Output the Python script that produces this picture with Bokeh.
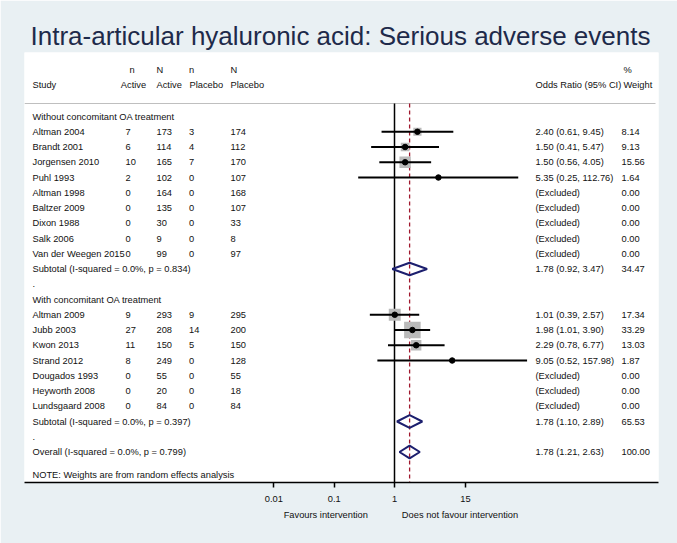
import math
from bokeh.plotting import figure
from bokeh.models import (Range1d, FixedTicker, CustomJSTickFormatter, LogAxis,
                          ColumnDataSource)
from bokeh.core.properties import value
from bokeh.embed import file_html
from bokeh.resources import INLINE

# ---------------- data ----------------
title = "Intra-articular hyaluronic acid: Serious adverse events"
group_names = ["Without concomitant OA treatment", "With concomitant OA treatment"]

studies = ["Altman 2004", "Brandt 2001", "Jorgensen 2010", "Puhl 1993", "Altman 1998",
           "Baltzer 2009", "Dixon 1988", "Salk 2006", "Van der Weegen 2015",
           "Altman 2009", "Jubb 2003", "Kwon 2013", "Strand 2012", "Dougados 1993",
           "Heyworth 2008", "Lundsgaard 2008"]
study_group = [0, 0, 0, 0, 0, 0, 0, 0, 0, 1, 1, 1, 1, 1, 1, 1]
n_active = [7, 6, 10, 2, 0, 0, 0, 0, 0, 9, 27, 11, 8, 0, 0, 0]
N_active = [173, 114, 165, 102, 164, 135, 30, 9, 99, 293, 208, 150, 249, 55, 20, 84]
n_placebo = [3, 4, 7, 0, 0, 0, 0, 0, 0, 9, 14, 5, 0, 0, 0, 0]
N_placebo = [174, 112, 170, 107, 168, 107, 33, 8, 97, 295, 200, 150, 128, 55, 18, 84]
odds_ratio = [2.40, 1.50, 1.50, 5.35, None, None, None, None, None,
              1.01, 1.98, 2.29, 9.05, None, None, None]
ci_low = [0.61, 0.41, 0.56, 0.25, None, None, None, None, None,
          0.39, 1.01, 0.78, 0.52, None, None, None]
ci_high = [9.45, 5.47, 4.05, 112.76, None, None, None, None, None,
           2.57, 3.90, 6.77, 157.98, None, None, None]
weight = [8.14, 9.13, 15.56, 1.64, 0.00, 0.00, 0.00, 0.00, 0.00,
          17.34, 33.29, 13.03, 1.87, 0.00, 0.00, 0.00]

sub_or = [1.78, 1.78]
sub_low = [0.92, 1.10]
sub_high = [3.47, 2.89]
sub_weight = [34.47, 65.53]
sub_i2 = ["0.0%", "0.0%"]
sub_p = ["0.834", "0.397"]

overall_or = 1.78
overall_low = 1.21
overall_high = 2.63
overall_weight = 100.00
overall_i2 = "0.0%"
overall_p = "0.799"

x_ticks = [0.01, 0.1, 1, 15]
favours_labels = ["Favours intervention", "Does not favour intervention"]
note = "NOTE: Weights are from random effects analysis"

# ---------------- layout helpers ----------------
ONE_PX = 394.0      # pixel of OR = 1
DECADE = 60.3       # pixels per decade
FR_L, FR_R, FR_T, FR_B = 24, 658, 52, 482
W, HGT = 677, 543


def xpx(px):
    return 10 ** ((px - ONE_PX) / DECADE)


FONT = value("Liberation Sans")
FS = "9.3px"
TXT = "#111111"

col_study, col_na, col_NA, col_np, col_NP, col_or, col_w = (
    xpx(32), xpx(125), xpx(156), xpx(188.5), xpx(230), xpx(535), xpx(621))

tx, ty, tt = [], [], []
est_x, est_y, lo_x, hi_x, sq_size = [], [], [], [], []
dia_xs, dia_ys = [], []
H = 0.413

row = 0
for g, gname in enumerate(group_names):
    tx.append(col_study); ty.append(row); tt.append(gname)
    row += 1
    for i, s in enumerate(studies):
        if study_group[i] != g:
            continue
        for cx, t in ((col_study, s), (col_na, str(n_active[i])), (col_NA, str(N_active[i])),
                      (col_np, str(n_placebo[i])), (col_NP, str(N_placebo[i])),
                      (col_w, f"{weight[i]:.2f}")):
            tx.append(cx); ty.append(row); tt.append(t)
        if odds_ratio[i] is None:
            tx.append(col_or); ty.append(row); tt.append("(Excluded)")
        else:
            tx.append(col_or); ty.append(row)
            tt.append(f"{odds_ratio[i]:.2f} ({ci_low[i]:.2f}, {ci_high[i]:.2f})")
            est_x.append(odds_ratio[i]); est_y.append(row)
            lo_x.append(ci_low[i]); hi_x.append(ci_high[i])
            sq_size.append(2.87 * math.sqrt(weight[i]))
        row += 1
    tx.append(col_study); ty.append(row)
    tt.append(f"Subtotal  (I-squared = {sub_i2[g]}, p = {sub_p[g]})")
    tx.append(col_or); ty.append(row)
    tt.append(f"{sub_or[g]:.2f} ({sub_low[g]:.2f}, {sub_high[g]:.2f})")
    tx.append(col_w); ty.append(row); tt.append(f"{sub_weight[g]:.2f}")
    dia_xs.append([sub_low[g], sub_or[g], sub_high[g], sub_or[g]])
    dia_ys.append([row, row - H, row, row + H])
    row += 1
    tx.append(col_study); ty.append(row); tt.append(".")
    row += 1

tx.append(col_study); ty.append(row)
tt.append(f"Overall  (I-squared = {overall_i2}, p = {overall_p})")
tx.append(col_or); ty.append(row)
tt.append(f"{overall_or:.2f} ({overall_low:.2f}, {overall_high:.2f})")
tx.append(col_w); ty.append(row); tt.append(f"{overall_weight:.2f}")
dia_xs.append([overall_low, overall_or, overall_high, overall_or])
dia_ys.append([row, row - H, row, row + H])
note_row = row + 1.5

hdr1 = -3.08
hdr2 = -2.08
for cx, cy, t in ((xpx(129), hdr1, "n"), (col_NA, hdr1, "N"), (col_np, hdr1, "n"),
                  (col_NP, hdr1, "N"), (xpx(623), hdr1, "%"),
                  (col_study, hdr2, "Study"), (xpx(120.3), hdr2, "Active"),
                  (col_NA, hdr2, "Active"), (xpx(189), hdr2, "Placebo"),
                  (col_NP, hdr2, "Placebo"), (col_or, hdr2, "Odds Ratio (95% CI)"),
                  (xpx(623), hdr2, "Weight"),
                  (col_study, note_row, note)):
    tx.append(cx); ty.append(cy); tt.append(t)

ROW0_PX, ROW_PX = 116.0, 15.25
Y_BOTTOM = (FR_B - ROW0_PX) / ROW_PX
Y_TOP = (FR_T - ROW0_PX) / ROW_PX
SEP = (103 - ROW0_PX) / ROW_PX

# ---------------- figure ----------------
p = figure(width=W, height=HGT, output_backend="svg", toolbar_location=None,
           x_axis_type="log", y_axis_location=None,
           x_range=Range1d(xpx(FR_L), xpx(FR_R)), y_range=Range1d(Y_BOTTOM, Y_TOP),
           min_border_left=FR_L, min_border_right=W - FR_R, min_border_top=FR_T,
           min_border_bottom=HGT - FR_B)
p.border_fill_color = "#E9F0F3"
p.background_fill_color = "white"
p.outline_line_color = None
p.xgrid.visible = False
p.ygrid.visible = False

p.title.text = title
p.title.text_font = "Liberation Sans"
p.title.text_font_size = "26px"
p.title.text_font_style = "normal"
p.title.text_color = "#1E2A4A"
p.title.align = "left"
p.title.offset = 6
p.title.standoff = 3

ax = p.xaxis[0]
ax.ticker = FixedTicker(ticks=x_ticks)
ax.formatter = CustomJSTickFormatter(code="return String(tick);")
ax.major_tick_in = 0
ax.major_tick_out = 5
ax.minor_tick_line_color = None
ax.axis_line_color = "black"
ax.axis_line_width = 1.5
ax.major_tick_line_color = "black"
ax.major_tick_line_width = 1.5
ax.major_label_text_font = "Liberation Sans"
ax.major_label_text_font_size = FS
ax.major_label_text_color = TXT
ax.major_label_standoff = 8

fav = LogAxis(ticker=FixedTicker(ticks=[xpx(325.3), xpx(459.5)]),
              formatter=CustomJSTickFormatter(args=dict(labels=favours_labels),
                                              code="return labels[index];"),
              axis_line_color=None, major_tick_line_color=None, minor_tick_line_color=None,
              major_tick_in=0, major_tick_out=0, major_label_standoff=5,
              major_label_text_font="Liberation Sans", major_label_text_font_size=FS,
              major_label_text_color=TXT)
p.add_layout(fav, "below")

# header separator
p.segment(x0=[xpx(FR_L)], y0=[SEP], x1=[xpx(655)], y1=[SEP], line_color="#BFBFBF", line_width=1)
# null line and overall line
p.segment(x0=[1], y0=[SEP], x1=[1], y1=[Y_BOTTOM], line_color="black", line_width=1.5)
p.segment(x0=[overall_or], y0=[SEP], x1=[overall_or], y1=[Y_BOTTOM],
          line_color="#A0182E", line_width=1.3, line_dash="4 3")

src = ColumnDataSource(dict(x=est_x, y=est_y, lo=lo_x, hi=hi_x, s=sq_size))
p.scatter("x", "y", size="s", marker="square", source=src,
          fill_color="#BABABA", line_color=None)
p.segment(x0="lo", y0="y", x1="hi", y1="y", source=src, line_color="black", line_width=2)
p.scatter("x", "y", size=5.5, source=src, fill_color="black", line_color="black")

p.patches(dia_xs, dia_ys, fill_color=None, line_color="#1C1F6E", line_width=2)

p.text(x=tx, y=ty, text=tt, text_font=FONT, text_font_size=FS, text_color=TXT,
       text_baseline="middle", text_align="left")

open("out.html", "w").write(file_html(p, INLINE))
